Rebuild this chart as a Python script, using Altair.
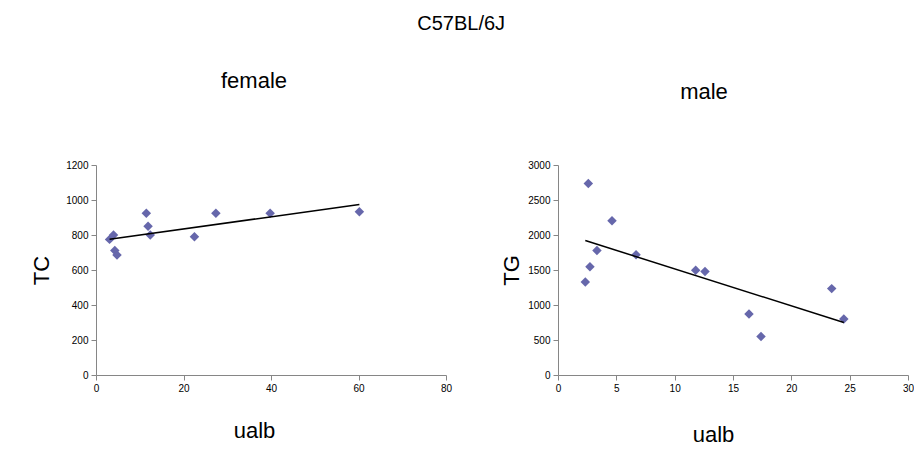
import altair as alt
import pandas as pd

# female panel (TC vs ualb)
female_ualb = [3.1, 4.0, 4.3, 4.8, 11.5, 11.9, 12.4, 22.5, 27.4, 39.8, 60.2]
female_tc = [775, 800, 712, 686, 924, 850, 800, 790, 924, 924, 933]

# male panel (TG vs ualb)
male_ualb = [2.34, 2.6, 2.74, 3.34, 4.63, 6.69, 11.8, 12.6, 16.37, 17.4, 23.46, 24.5]
male_tg = [1328, 2737, 1545, 1780, 2204, 1719, 1498, 1479, 871, 551, 1234, 801]

female_xticks = [0, 20, 40, 60, 80]
female_yticks = [0, 200, 400, 600, 800, 1000, 1200]
male_xticks = [0, 5, 10, 15, 20, 25, 30]
male_yticks = [0, 500, 1000, 1500, 2000, 2500, 3000]

df_f = pd.DataFrame({"ualb": female_ualb, "TC": female_tc})
df_m = pd.DataFrame({"ualb": male_ualb, "TG": male_tg})

POINT = "#6667AB"
AXCOL = "#868686"
TFONT = "Liberation Sans"


def axis(values, title_pad, title_x=None):
    kw = dict(
        values=values,
        format="d",
        grid=False,
        labelFlush=False,
        domainColor=AXCOL,
        tickColor=AXCOL,
        tickSize=5,
        labelFont=TFONT,
        labelFontSize=10,
        labelColor="#000000",
        labelPadding=3,
        titleFont=TFONT,
        titleFontSize=22,
        titleFontWeight="normal",
        titleColor="#000000",
        titlePadding=title_pad,
    )
    if title_x is not None:
        kw["titleX"] = title_x
    return alt.Axis(**kw)


def panel(df, ycol, xdom, ydom, xticks, yticks, title, ytitle_pad, xtitle_pad,
          xtitle_x, title_offset, title_dx):
    base = alt.Chart(df)
    x = alt.X("ualb:Q", scale=alt.Scale(domain=xdom, nice=False, zero=False),
              axis=axis(xticks, xtitle_pad, xtitle_x), title="ualb")
    y = alt.Y(f"{ycol}:Q", scale=alt.Scale(domain=ydom, nice=False),
              axis=axis(yticks, ytitle_pad), title=ycol)
    pts = base.mark_point(shape="diamond", filled=True, size=90, color=POINT, opacity=1).encode(x=x, y=y)
    line = base.transform_regression("ualb", ycol).mark_line(color="black", strokeWidth=1.5).encode(x=x, y=y)
    return alt.layer(pts, line).properties(
        width=350, height=210,
        title=alt.TitleParams(title, font=TFONT, fontSize=22, fontWeight="normal",
                              color="#000000", offset=title_offset, dx=title_dx),
    )


left = panel(df_f, "TC", [0, 80], [0, 1200], female_xticks, female_yticks, "female",
             12, 27, 158, 67, -17)
right = panel(df_m, "TG", [0, 30], [0, 3000], male_xticks, male_yticks, "male",
              4, 31, 155, 56, -29)

chart = alt.hconcat(left, right, spacing=112, bounds="flush").properties(
    title=alt.TitleParams("C57BL/6J", font=TFONT, fontSize=20, fontWeight="normal",
                          color="#000000", anchor="middle", offset=36, dx=-11),
    padding={"left": 30, "top": 14, "right": 0, "bottom": 5},
).configure_view(stroke=None)

chart.save("out.html", embed_options={"renderer": "svg", "actions": False})
